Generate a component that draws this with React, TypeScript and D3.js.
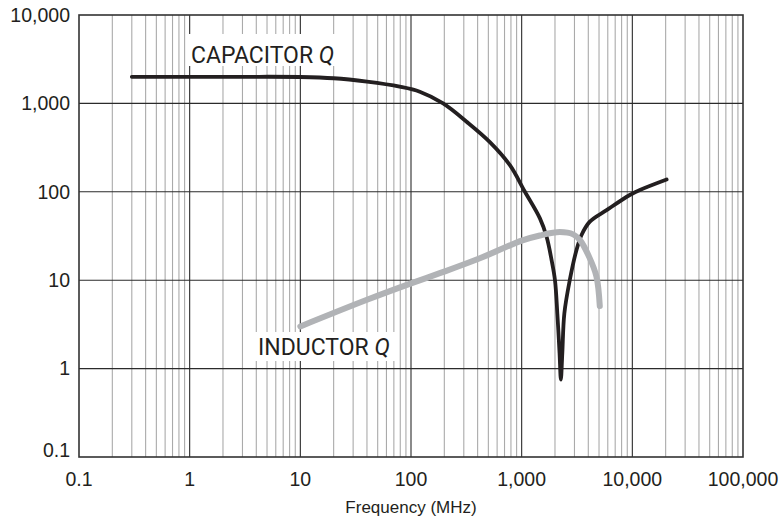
import React from "react";
import * as d3 from "d3";

const xTicks = [0.1, 1, 10, 100, 1000, 10000, 100000];
const xTickLabels = ["0.1", "1", "10", "100", "1,000", "10,000", "100,000"];
const yTicks = [0.1, 1, 10, 100, 1000, 10000];
const yTickLabels = ["0.1", "1", "10", "100", "1,000", "10,000"];

const capFreq = [0.3, 1, 3, 10, 20, 40, 79, 120, 195, 318, 516, 783, 1070, 1462, 1680, 1862, 2000, 2100, 2200, 2260, 2330, 2430, 2720, 3130, 3475, 4130, 5850, 9480, 11700, 20400];
const capQ = [2000, 2000, 2000, 1990, 1925, 1760, 1545, 1356, 1000, 621, 365, 200, 100, 50, 31, 17, 10, 4.2, 1.5, 0.75, 1.5, 4.2, 10, 22, 32.5, 46, 62, 92, 105, 138];

const indFreq = [10, 40, 100, 182, 419, 1000, 1460, 2210, 2920, 3360, 4100, 4740, 5080];
const indQ = [3, 6, 9.2, 12, 17.7, 28, 32, 35, 33, 28.5, 18, 11, 5.1];

const W = 784, H = 523;
const L = 79, R = 743, T = 15, B = 457;

export default function App() {
  const x = d3.scaleLog().domain([0.1, 100000]).range([L, R]);
  const y = d3.scaleLog().domain([0.1, 10000]).range([B, T]);

  const minorX: number[] = [];
  for (let d = 0; d < xTicks.length - 1; d++) {
    for (let k = 2; k <= 9; k++) minorX.push(xTicks[d] * k);
  }

  const line = d3
    .line<[number, number]>()
    .x((p) => x(p[0]))
    .y((p) => y(p[1]))
    .curve(d3.curveCatmullRom.alpha(0.5));

  const capPts = capFreq.map((f, i) => [f, capQ[i]] as [number, number]);
  const indPts = indFreq.map((f, i) => [f, indQ[i]] as [number, number]);

  const tickFont = "'Liberation Sans', Arial, Helvetica, sans-serif";
  const labelFont = "Roboto, 'Liberation Sans', sans-serif";

  return (
    <svg width={W} height={H} style={{ position: "absolute", left: 0, top: 0, background: "#fff" }}>
      <rect x={0} y={0} width={W} height={H} fill="#fff" />
      {minorX.map((v, i) => (
        <line key={"mx" + i} x1={x(v)} x2={x(v)} y1={T} y2={B} stroke="#aaaaaa" strokeWidth={1.1} />
      ))}
      {xTicks.slice(1, -1).map((v, i) => (
        <line key={"Mx" + i} x1={x(v)} x2={x(v)} y1={T} y2={B} stroke="#2b2b2b" strokeWidth={1.1} />
      ))}
      {yTicks.slice(1, -1).map((v, i) => (
        <line key={"My" + i} x1={L} x2={R} y1={y(v)} y2={y(v)} stroke="#2b2b2b" strokeWidth={1.1} />
      ))}
      <rect x={L} y={T} width={R - L} height={B - T} fill="none" stroke="#333" strokeWidth={1.6} />

      {/* label backgrounds */}
      <rect x={186} y={34} width={155} height={32} fill="#fff" />
      <rect x={254} y={332} width={143} height={29} fill="#fff" />

      <path d={line(capPts) || ""} fill="none" stroke="#231f20" strokeWidth={3.8} strokeLinecap="round" strokeLinejoin="round" />
      <path d={line(indPts) || ""} fill="none" stroke="#b1b3b6" strokeWidth={6} strokeLinecap="round" strokeLinejoin="round" />

      <text x={191} y={63} fontFamily={labelFont} fontSize={23} fill="#231f20">
        CAPACITOR <tspan fontStyle="italic">Q</tspan>
      </text>
      <text x={258} y={355} fontFamily={labelFont} fontSize={23} fill="#231f20">
        INDUCTOR <tspan fontStyle="italic">Q</tspan>
      </text>

      {yTicks.map((v, i) => (
        <text
          key={"yl" + i}
          x={70}
          y={i === 0 ? y(v) - 7 : y(v)}
          dy="0.35em"
          textAnchor="end"
          fontFamily={tickFont}
          fontSize={19.5}
          fill="#231f20"
        >
          {yTickLabels[i]}
        </text>
      ))}
      {xTicks.map((v, i) => (
        <text
          key={"xl" + i}
          x={x(v)}
          y={486}
          textAnchor="middle"
          fontFamily={tickFont}
          fontSize={19.5}
          fill="#231f20"
        >
          {xTickLabels[i]}
        </text>
      ))}
      <text x={(L + R) / 2} y={513} textAnchor="middle" fontFamily={tickFont} fontSize={17} fill="#231f20">
        Frequency (MHz)
      </text>
    </svg>
  );
}
